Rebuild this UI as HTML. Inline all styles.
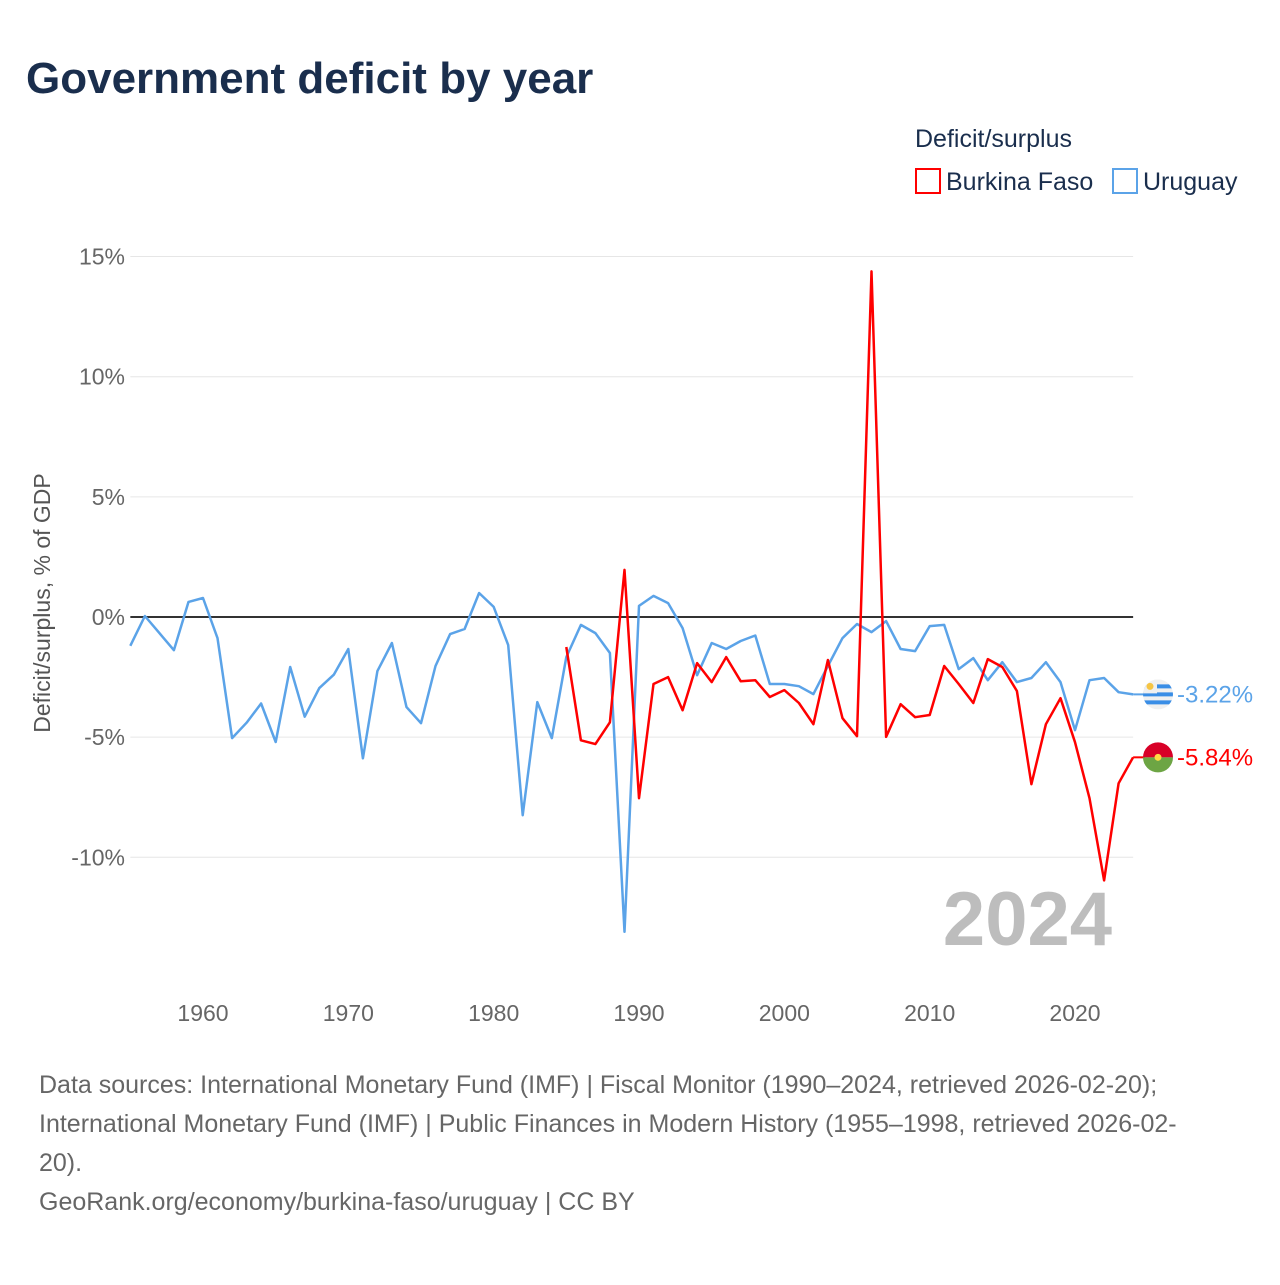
<!DOCTYPE html>
<html><head><meta charset="utf-8"><style>
body{margin:0;background:#fff;font-family:"Liberation Sans",sans-serif;}
svg text{font-family:"Liberation Sans",sans-serif;}
</style></head><body>
<svg id="chart" width="1280" height="1280" xmlns="http://www.w3.org/2000/svg">
<text x="26" y="93" font-size="44" font-weight="bold" fill="#1a2e4d">Government deficit by year</text>
<text x="915" y="147" font-size="25" fill="#1a2e4d">Deficit/surplus</text>
<g><rect x="916" y="169" width="24" height="24" fill="none" stroke="#ff0000" stroke-width="2"/><text x="946" y="190" font-size="25" fill="#1a2e4d">Burkina Faso</text></g>
<g><rect x="1113" y="169" width="24" height="24" fill="none" stroke="#5ba3e8" stroke-width="2"/><text x="1143" y="190" font-size="25" fill="#1a2e4d">Uruguay</text></g>
<g id="grid"></g>
<g id="yticks"></g>
<g id="xticks"></g>
<text transform="translate(50,603) rotate(-90)" text-anchor="middle" font-size="23" fill="#555">Deficit/surplus, % of GDP</text>
<text x="1112" y="945" text-anchor="end" font-size="76" font-weight="bold" fill="#bdbdbd">2024</text>
<g id="series"></g>
<g id="ends"></g>
<g font-size="25" fill="#666">
<text x="39" y="1093">Data sources: International Monetary Fund (IMF) | Fiscal Monitor (1990–2024, retrieved 2026-02-20);</text>
<text x="39" y="1132">International Monetary Fund (IMF) | Public Finances in Modern History (1955–1998, retrieved 2026-02-</text>
<text x="39" y="1171">20).</text>
<text x="39" y="1210">GeoRank.org/economy/burkina-faso/uruguay | CC BY</text>
</g>
</svg>
<script>
const uruguayYears=[1955,1956,1957,1958,1959,1960,1961,1962,1963,1964,1965,1966,1967,1968,1969,1970,1971,1972,1973,1974,1975,1976,1977,1978,1979,1980,1981,1982,1983,1984,1985,1986,1987,1988,1989,1990,1991,1992,1993,1994,1995,1996,1997,1998,1999,2000,2001,2002,2003,2004,2005,2006,2007,2008,2009,2010,2011,2012,2013,2014,2015,2016,2017,2018,2019,2020,2021,2022,2023,2024];
const uruguayValues=[-1.2,0.04,-0.67,-1.38,0.63,0.79,-0.88,-5.04,-4.4,-3.6,-5.2,-2.08,-4.15,-2.96,-2.4,-1.33,-5.88,-2.25,-1.08,-3.75,-4.42,-2.04,-0.71,-0.5,1.0,0.42,-1.17,-8.25,-3.54,-5.04,-1.67,-0.33,-0.67,-1.5,-13.1,0.46,0.88,0.58,-0.46,-2.42,-1.08,-1.33,-1.0,-0.77,-2.79,-2.79,-2.88,-3.21,-2.04,-0.88,-0.29,-0.63,-0.17,-1.33,-1.42,-0.38,-0.33,-2.17,-1.71,-2.63,-1.88,-2.71,-2.54,-1.88,-2.71,-4.71,-2.63,-2.54,-3.13,-3.22];
const burkinaYears=[1985,1986,1987,1988,1989,1990,1991,1992,1993,1994,1995,1996,1997,1998,1999,2000,2001,2002,2003,2004,2005,2006,2007,2008,2009,2010,2011,2012,2013,2014,2015,2016,2017,2018,2019,2020,2021,2022,2023,2024];
const burkinaValues=[-1.25,-5.13,-5.29,-4.38,1.96,-7.54,-2.79,-2.5,-3.88,-1.92,-2.71,-1.67,-2.67,-2.63,-3.33,-3.04,-3.58,-4.46,-1.79,-4.21,-4.96,14.38,-4.99,-3.63,-4.17,-4.08,-2.04,-2.79,-3.58,-1.75,-2.08,-3.08,-6.96,-4.46,-3.38,-5.21,-7.54,-10.96,-6.92,-5.84];
const yTickValues=[15,10,5,0,-5,-10];
const yTickLabels=["15%","10%","5%","0%","-5%","-10%"];
const xTickValues=[1960,1970,1980,1990,2000,2010,2020];
const xTickLabels=["1960","1970","1980","1990","2000","2010","2020"];

const NS="http://www.w3.org/2000/svg";
const X=y=>203+(y-1960)*(872/60);
const Y=v=>617-v*24.03;
function mk(tag,attrs,parent,txt){const e=document.createElementNS(NS,tag);for(const k in attrs)e.setAttribute(k,attrs[k]);if(txt!==undefined)e.textContent=txt;parent.appendChild(e);return e;}
const grid=document.getElementById('grid'),yt=document.getElementById('yticks'),xt=document.getElementById('xticks');
yTickValues.forEach((v,i)=>{
  const l=mk('line',{x1:X(1955),x2:X(2024),y1:Y(v),y2:Y(v),stroke:v===0?'#333':'#e6e6e6','stroke-width':v===0?2:1},grid);
  
  
  const t=mk('text',{x:125,y:Y(v)+8,'text-anchor':'end','font-size':23,fill:'#666'},yt,yTickLabels[i]);
  
  
});
xTickValues.forEach((v,i)=>{
  const t=mk('text',{x:X(v),y:1021,'text-anchor':'middle','font-size':23,fill:'#666'},xt,xTickLabels[i]);
  
  
});
const ser=document.getElementById('series');
function line(years,vals,color,name){
  const d=years.map((y,i)=>(i?'L':'M')+X(y).toFixed(1)+','+Y(vals[i]).toFixed(1)).join(' ');
  const p=mk('path',{d:d,fill:'none',stroke:color,'stroke-width':2.5,'stroke-linejoin':'round'},ser);
  
  
}
line(uruguayYears,uruguayValues,'#5ba3e8','uruguay-line');
line(burkinaYears,burkinaValues,'#ff0000','burkina-faso-line');
const ends=document.getElementById('ends');
function endLabel(v,color,name,flag){
  const y=Y(v);
  const g=mk('g',{},ends);
  
  
  mk('line',{x1:X(2024),x2:1145,y1:y,y2:y,stroke:color,'stroke-width':2},g);
  flag(g,1158,y);
  mk('text',{x:1177,y:y+8,'font-size':24,fill:color},g,v.toFixed(2)+'%');
}
endLabel(uruguayValues[uruguayValues.length-1],'#5ba3e8','uruguay-end-label',(g,cx,cy)=>{
  const cp=mk('clipPath',{id:'cu'},g);
  mk('circle',{cx:cx,cy:cy,r:15},cp);
  const f=mk('g',{'clip-path':'url(#cu)'},g);
  mk('rect',{x:cx-15,y:cy-15,width:30,height:30,fill:'#f0f0f0'},f);
  [-9,-1,7].forEach(o=>mk('rect',{x:cx-15,y:cy+o-1,width:30,height:4,fill:'#3a8ee6'},f));
  mk('rect',{x:cx-15,y:cy-15,width:14,height:14,fill:'#f0f0f0'},f);
  mk('circle',{cx:cx-8,cy:cy-8,r:3.5,fill:'#f6c544'},f);
});
endLabel(burkinaValues[burkinaValues.length-1],'#ff0000','burkina-faso-end-label',(g,cx,cy)=>{
  mk('path',{d:`M${cx-15},${cy} A15,15 0 0 1 ${cx+15},${cy} Z`,fill:'#d80027'},g);
  mk('path',{d:`M${cx-15},${cy} A15,15 0 0 0 ${cx+15},${cy} Z`,fill:'#6da544'},g);
  mk('circle',{cx:cx,cy:cy,r:3.5,fill:'#ffda44'},g);
});
</script>
</body></html>
